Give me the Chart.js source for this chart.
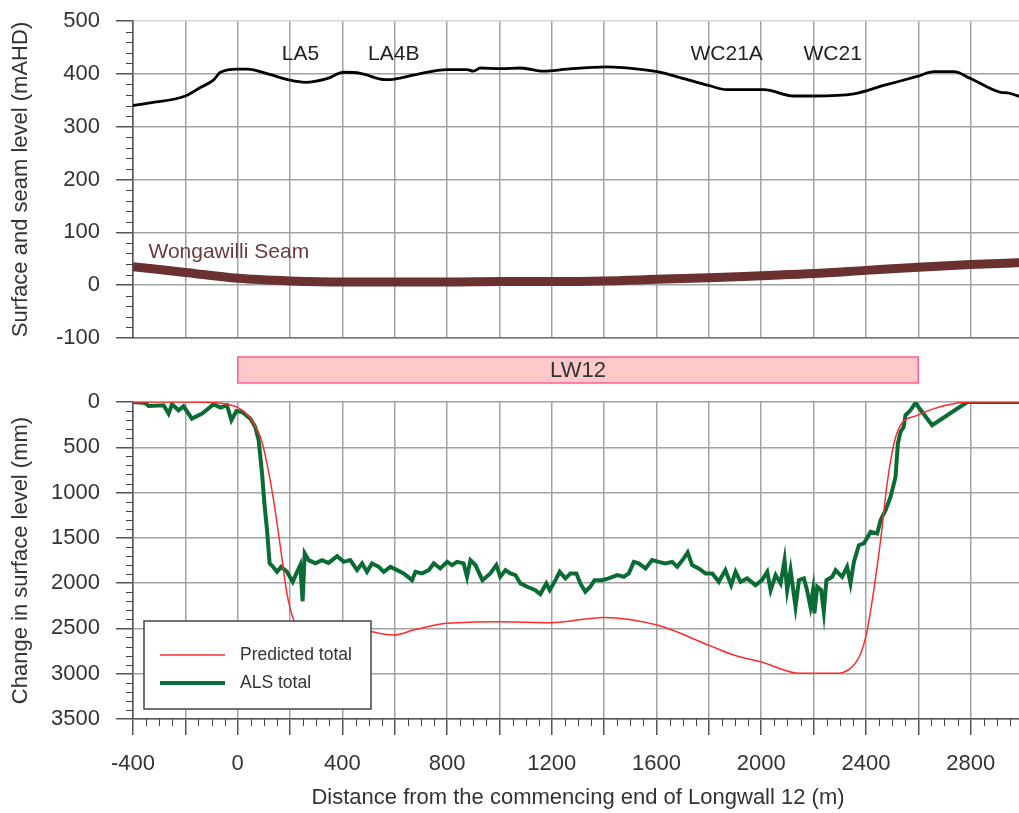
<!DOCTYPE html>
<html><head><meta charset="utf-8">
<script src="https://cdn.jsdelivr.net/npm/chart.js@4.4.1/dist/chart.umd.min.js"></script>
<style>
html,body{margin:0;padding:0;background:#fff;overflow:hidden;width:1019px;height:813px;}
#top{position:absolute;left:0;top:0;}
#bot{position:absolute;left:0;top:345px;}
</style></head><body>
<canvas id="top" width="1023" height="360"></canvas>
<canvas id="bot" width="1023" height="468"></canvas>
<script>
// ---------- DATA ----------
const surfaceDist  = [-400,-334,-200,-143,-93,-66,0,38,115,200,258,341,405,469,564,599,685,800,876,900,927,1004,1081,1169,1258,1411,1513,1602,1704,1799,1869,2010,2124,2201,2354,2468,2596,2660,2736,2800,2915,2940,3000];
const surfaceLevel = [340,345,358,374,388,403,409,409,400,388,384,391,403,401,389,390,399,408,408,405,411,410,411,405,409,413,410,404,391,378,370,370,358,358,362,378,395,404,404,391,365,364,355];

const seamDist  = [-400,-200,0,200,400,600,800,1000,1200,1400,1600,1800,2000,2200,2400,2600,2800,3000];
const seamLevel = [35,24,13,8,6,6,6,7,7,8,11,14,18,22,28,34,39,43];

const predictedDist   = [-400,-200,-100,-50,0,40,61,87,112,137,163,188,214,239,290,341,400,443,494,550,596,672,800,1004,1195,1399,1602,1799,1895,1997,2150,2277,2341,2380,2405,2430,2456,2481,2507,2532,2596,2660,2749,2800,3000];
const predictedChange = [0,0,5,20,60,150,238,390,680,1084,1600,2113,2408,2518,2595,2590,2540,2515,2525,2560,2573,2518,2444,2426,2437,2378,2463,2684,2794,2868,2996,2996,2941,2776,2518,2077,1526,900,459,257,147,73,11,0,0];

const alsDist   = [-400,-353,-340,-283,-264,-251,-226,-207,-175,-136,-92,-66,-41,-24,-5,17,48,67,80,93,102,112,122,135,150,166,188,210,227,239,248,256,271,297,322,347,380,405,430,456,475,494,513,539,558,583,609,634,666,679,704,730,749,774,800,819,838,863,876,889,908,935,965,988,1003,1023,1042,1061,1080,1106,1137,1156,1179,1192,1214,1230,1252,1271,1294,1309,1328,1347,1363,1392,1417,1450,1475,1494,1513,1532,1558,1583,1608,1634,1660,1679,1704,1719,1736,1761,1787,1813,1838,1863,1885,1902,1921,1946,1978,2003,2023,2036,2055,2074,2089,2099,2112,2131,2144,2163,2175,2188,2198,2203,2214,2229,2239,2249,2271,2284,2309,2328,2341,2354,2373,2392,2418,2443,2456,2475,2494,2513,2522,2532,2544,2551,2570,2589,2653,2787,3000];
const alsChange = [0,11,44,36,128,25,92,47,183,128,25,62,36,202,99,110,183,276,422,790,1121,1415,1782,1820,1875,1820,1875,1985,1875,1801,2200,1672,1746,1782,1746,1776,1702,1765,1746,1856,1782,1875,1782,1820,1875,1820,1856,1893,1967,1875,1893,1856,1782,1838,1765,1801,1765,1782,1930,1746,1800,1967,1893,1801,1930,1856,1893,1911,2003,2040,2077,2121,2003,2077,1967,1875,1948,1893,1893,2003,2096,2040,1967,1967,1948,1911,1930,1893,1765,1782,1838,1746,1765,1782,1765,1820,1727,1661,1801,1838,1893,1893,1985,1856,2022,1875,1985,1948,2022,1967,1875,2077,1911,2003,1746,2077,1856,2261,1967,1948,2077,2261,2077,2334,2040,2077,2316,1967,1930,1856,1930,1820,2003,1765,1581,1562,1434,1452,1305,1195,1048,827,459,331,276,147,92,11,257,0,0];

const siteNames    = ['LA5','LA4B','WC21A','WC21'];
const siteChainage = [240,596,1868,2273];
const siteLabelLevel = 438;

const seamLabel = 'Wongawilli Seam';
const seamLabelAt = [-341, 62];

const panelName = 'LW12';
const panelStart = 0, panelEnd = 2600;

const xMin = -400, xMax = 3000, xStep = 200, xLabelStep = 400, xMinorStep = 50;
const topMin = -100, topMax = 500, topStep = 100, topMinor = 20;
const botMin = 0, botMax = 3500, botStep = 500, botMinor = 100;

// ---------- STYLE ----------
const FONT = "'Liberation Sans', Arial, Helvetica, sans-serif";
const TXT = '#333';
const GRID = '#a2a2a2';
const AXIS = '#555';
const pts = (xs, ys) => xs.map((x, i) => ({x, y: ys[i]}));
const noPad = s => { s.paddingTop = 0; s.paddingBottom = 0; s.paddingLeft = 0; s.paddingRight = 0; };

const minorTicks = {
  id: 'minorTicks',
  afterDraw(chart, args, opts) {
    const ctx = chart.ctx, xs = chart.scales.x, ys = chart.scales.y;
    ctx.save();
    ctx.strokeStyle = '#444'; ctx.lineWidth = 1;
    ctx.beginPath();
    for (let v = opts.yMin; v <= opts.yMax; v += opts.yMinor) {
      if (Math.abs(v % opts.yMajor) < 1e-6) continue;
      const p = Math.round(ys.getPixelForValue(v)) + 0.5;
      ctx.moveTo(xs.left - 7, p); ctx.lineTo(xs.left, p);
    }
    if (opts.xMinor) {
      for (let v = xMin; v <= xMax; v += opts.xMinor) {
        if (Math.abs(v % xStep) < 1e-6) continue;
        const p = Math.round(xs.getPixelForValue(v)) + 0.5;
        ctx.moveTo(p, ys.bottom); ctx.lineTo(p, ys.bottom + 7);
      }
    }
    ctx.stroke();
    ctx.restore();
  }
};

const topLabels = {
  id: 'topLabels',
  afterDatasetsDraw(chart) {
    const ctx = chart.ctx, xs = chart.scales.x, ys = chart.scales.y;
    ctx.save();
    ctx.font = '21px ' + FONT;
    ctx.fillStyle = '#222';
    ctx.textAlign = 'center'; ctx.textBaseline = 'middle';
    siteNames.forEach((n, i) => ctx.fillText(n, xs.getPixelForValue(siteChainage[i]), ys.getPixelForValue(siteLabelLevel)));
    ctx.textAlign = 'left';
    ctx.fillStyle = '#6b3a3a';
    ctx.fillText(seamLabel, xs.getPixelForValue(seamLabelAt[0]), ys.getPixelForValue(seamLabelAt[1]));
    ctx.restore();
  }
};

const panelBar = {
  id: 'panelBar',
  afterDraw(chart) {
    const ctx = chart.ctx, xs = chart.scales.x, top = chart.chartArea.top;
    const x0 = xs.getPixelForValue(panelStart), x1 = xs.getPixelForValue(panelEnd);
    const y0 = top - 45, h = 26;
    ctx.save();
    ctx.fillStyle = '#ffc9c9';
    ctx.fillRect(x0, y0, x1 - x0, h);
    ctx.strokeStyle = '#ff5c96'; ctx.lineWidth = 1.5;
    ctx.strokeRect(x0, y0, x1 - x0, h);
    ctx.fillStyle = TXT; ctx.font = '22px ' + FONT;
    ctx.textAlign = 'center'; ctx.textBaseline = 'middle';
    ctx.fillText(panelName, (x0 + x1) / 2, y0 + h / 2 + 1);
    ctx.restore();
  }
};

const boxLegend = {
  id: 'boxLegend',
  afterDatasetsDraw(chart) {
    const ctx = chart.ctx, a = chart.chartArea;
    const bx = a.left + 11, by = a.top + 219, bw = 227, bh = 88;
    ctx.save();
    ctx.fillStyle = '#fff';
    ctx.fillRect(bx, by, bw, bh);
    ctx.strokeStyle = '#444'; ctx.lineWidth = 1.5;
    ctx.strokeRect(bx, by, bw, bh);
    ctx.font = '17.5px ' + FONT; ctx.fillStyle = TXT;
    ctx.textAlign = 'left'; ctx.textBaseline = 'middle';
    chart.data.datasets.forEach((d, i) => {
      const yy = by + 34 + i * 28;
      ctx.strokeStyle = d.borderColor; ctx.lineWidth = d.borderWidth;
      ctx.beginPath(); ctx.moveTo(bx + 16, yy); ctx.lineTo(bx + 81, yy); ctx.stroke();
      ctx.fillText(d.label, bx + 96, yy);
    });
    ctx.restore();
  }
};

Chart.defaults.font.family = FONT;
Chart.defaults.color = TXT;

new Chart(document.getElementById('top'), {
  type: 'line',
  data: { datasets: [
    { label: 'Surface', data: pts(surfaceDist, surfaceLevel), borderColor: '#000', borderWidth: 2.8, pointRadius: 0, tension: 0.3, cubicInterpolationMode: 'monotone' },
    { label: 'Wongawilli Seam', data: pts(seamDist, seamLevel), borderColor: '#6b3030', borderWidth: 9, pointRadius: 0, tension: 0.4, cubicInterpolationMode: 'monotone' }
  ]},
  options: {
    responsive: false, animation: false, events: [],
    layout: { padding: { top: 21, right: 0, bottom: 0, left: 0 } },
    plugins: { legend: { display: false }, tooltip: { enabled: false },
      minorTicks: { yMin: topMin, yMax: topMax, yMinor: topMinor, yMajor: topStep, xMinor: 0 } },
    scales: {
      x: { type: 'linear', min: xMin, max: xMax,
        ticks: { display: false, stepSize: xStep },
        grid: { color: GRID, lineWidth: 1.5, drawTicks: false },
        border: { display: true, color: '#777', width: 1.5 },
        afterFit(s) { s.height = 22; noPad(s); } },
      y: { min: topMin, max: topMax,
        ticks: { stepSize: topStep, font: { size: 22 }, color: TXT, padding: 16, callback: v => String(v) },
        grid: { color: c => (c.tick && c.tick.value === topMax) ? '#d6d6d6' : GRID, lineWidth: 1.5, tickLength: 17, tickColor: AXIS },
        border: { color: AXIS, width: 1.5 },
        title: { display: true, text: 'Surface and seam level (mAHD)', font: { size: 22 }, color: TXT, padding: { top: 8, bottom: 0 } },
        afterFit(s) { s.width = 133; noPad(s); } }
    }
  },
  plugins: [minorTicks, topLabels]
});

new Chart(document.getElementById('bot'), {
  type: 'line',
  data: { datasets: [
    { label: 'Predicted total', data: pts(predictedDist, predictedChange), borderColor: '#ff2b2b', borderWidth: 1.5, pointRadius: 0, tension: 0.4, cubicInterpolationMode: 'monotone' },
    { label: 'ALS total', data: pts(alsDist, alsChange), borderColor: '#0b6b35', borderWidth: 4, pointRadius: 0, tension: 0 }
  ]},
  options: {
    responsive: false, animation: false, events: [],
    layout: { padding: { top: 57, right: 0, bottom: 0, left: 0 } },
    plugins: { legend: { display: false }, tooltip: { enabled: false },
      minorTicks: { yMin: botMin, yMax: botMax, yMinor: botMinor, yMajor: botStep, xMinor: xMinorStep } },
    scales: {
      x: { type: 'linear', min: xMin, max: xMax,
        ticks: { stepSize: xStep, autoSkip: false, maxRotation: 0, minRotation: 0, font: { size: 22 }, color: TXT, padding: 16,
          callback: v => (Math.abs(v % xLabelStep) < 1e-6 ? String(v) : '') },
        grid: { color: GRID, lineWidth: 1.5, tickLength: 16, tickColor: AXIS },
        border: { color: AXIS, width: 1.5 },
        title: { display: true, text: 'Distance from the commencing end of Longwall 12 (m)', font: { size: 22 }, color: TXT, padding: { top: 0, bottom: 2 } },
        afterFit(s) { s.height = 94; noPad(s); } },
      y: { min: botMin, max: botMax, reverse: true,
        ticks: { stepSize: botStep, font: { size: 22 }, color: TXT, padding: 16, callback: v => String(v) },
        grid: { color: GRID, lineWidth: 1.5, tickLength: 17, tickColor: AXIS },
        border: { color: AXIS, width: 1.5 },
        title: { display: true, text: 'Change in surface level (mm)', font: { size: 22 }, color: TXT, padding: { top: 8, bottom: 0 } },
        afterFit(s) { s.width = 133; noPad(s); } }
    }
  },
  plugins: [minorTicks, panelBar, boxLegend]
});
</script>
</body></html>
